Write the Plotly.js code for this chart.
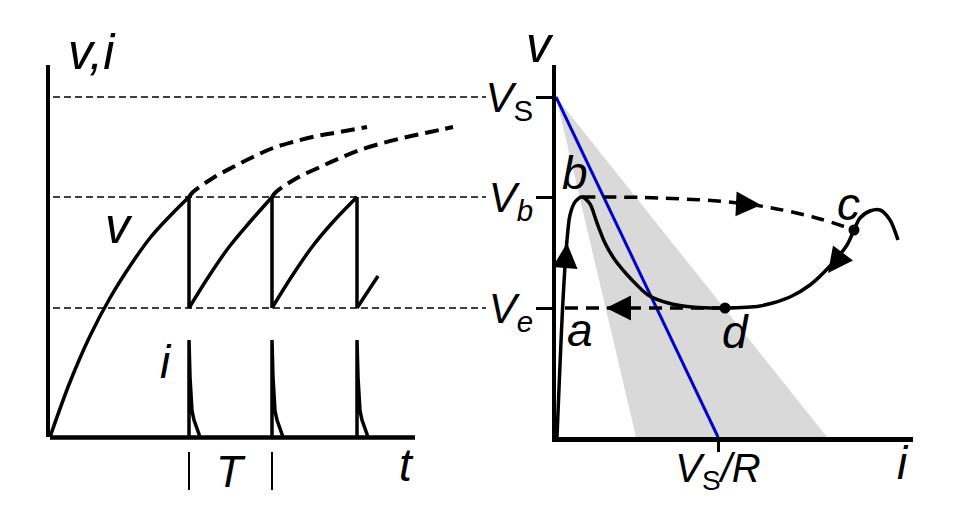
<!DOCTYPE html>
<html>
<head>
<meta charset="utf-8">
<script src="https://cdn.plot.ly/plotly-3.0.1.min.js"></script>
<style>html,body{margin:0;padding:0;background:#fff;}#chart{width:964px;height:512px;}</style>
</head>
<body>
<div id="chart"></div>
<script>
// ---------- Left panel: v(t) and i(t) (t and v in drawing units; V_S = 340) ----------
const levelV = [340, 240, 129];                // V_S, V_b, V_e
const chargeT = [0, 20, 40, 60, 80, 100, 120, 141];
const chargeV = [0, 55, 101, 139, 171, 199, 221, 242];
const tooth2T = [139, 159, 179, 199, 223];
const tooth2V = [129, 161, 190, 214, 241];
const tooth3T = [222, 242, 262, 282, 307];
const tooth3V = [129, 161, 190, 214, 240];
const tooth4T = [307, 328];
const tooth4V = [129, 161];
const dropT = [139, 139, null, 222, 222, null, 307, 307];
const dropV = [240, 129, null, 240, 129, null, 240, 129];
const dash1T = [139, 143, 163, 183, 203, 223, 243, 267, 290, 317];
const dash1V = [240, 245, 259, 270, 280, 289, 295, 301, 305, 310];
const dash2T = [222, 226, 247, 270, 290, 310, 333, 357, 380, 403];
const dash2V = [240, 245, 259, 270, 279, 287, 294, 300, 305, 310];
const spike1T = [139, 139, 140, 141, 142, 144, 147, 150];
const spike2T = [222, 222, 223, 224, 225, 227, 230, 233];
const spike3T = [307, 307, 308, 309, 310, 312, 315, 318];
const spikeI  = [0, 97, 60, 34, 26, 17, 7, 0];
const periodMarks = [139, 222];
const tAxisEnd = 365;

// ---------- Right panel: v(i) characteristic ----------
const curveI = [1, 7, 11, 14, 19, 26, 34, 41, 49, 59, 76, 92, 112, 136, 169, 204, 234, 254, 274, 291, 298, 304, 314, 324, 334, 342];
const curveV = [0, 137, 197, 222, 235, 240, 233, 214, 194, 177, 157, 142, 134, 130, 129, 131, 140, 152, 171, 192, 207, 219, 226, 227, 217, 197];
const jumpBCi = [26, 104, 191, 257, 298];
const jumpBCv = [240, 239, 233, 220, 207];
const jumpDAi = [169, 2];
const jumpDAv = [129, 129];
const loadI = [0, 162];                         // load line V_S -> V_S/R
const loadV = [340, 0];
const shadeI = [0, 80, 271, 0];
const shadeV = [340, 0, 0, 340];
const pointNames = ['a', 'b', 'c', 'd'];
const pointI = [24, 19, 292, 179];
const pointV = [107, 264, 233, 105];
const dotI = [298, 169];
const dotV = [207, 129];

const F = 'Liberation Sans, Arial, sans-serif';
const blk = 'black';
const LW = 3.5;

const traces = [
  // left panel
  {x: chargeT, y: chargeV, mode: 'lines', line: {color: blk, width: LW, shape: 'spline'}},
  {x: tooth2T, y: tooth2V, mode: 'lines', line: {color: blk, width: LW, shape: 'spline'}},
  {x: tooth3T, y: tooth3V, mode: 'lines', line: {color: blk, width: LW, shape: 'spline'}},
  {x: tooth4T, y: tooth4V, mode: 'lines', line: {color: blk, width: LW}},
  {x: dropT, y: dropV, mode: 'lines', line: {color: blk, width: LW}, connectgaps: false},
  {x: dash1T, y: dash1V, mode: 'lines', line: {color: blk, width: 4, dash: '14px,7px', shape: 'spline'}},
  {x: dash2T, y: dash2V, mode: 'lines', line: {color: blk, width: 4, dash: '14px,7px', shape: 'spline'}},
  {x: spike1T, y: spikeI, mode: 'lines', line: {color: blk, width: LW}},
  {x: spike2T, y: spikeI, mode: 'lines', line: {color: blk, width: LW}},
  {x: spike3T, y: spikeI, mode: 'lines', line: {color: blk, width: LW}},
  // right panel
  {x: shadeI, y: shadeV, xaxis: 'x2', yaxis: 'y2', mode: 'lines', fill: 'toself', fillcolor: '#d9d9d9', line: {width: 0}},
  {x: loadI, y: loadV, xaxis: 'x2', yaxis: 'y2', mode: 'lines', line: {color: '#0000cc', width: 3}},
  {x: jumpBCi, y: jumpBCv, xaxis: 'x2', yaxis: 'y2', mode: 'lines', line: {color: blk, width: LW, dash: '13px,8px', shape: 'spline'}},
  {x: jumpDAi, y: jumpDAv, xaxis: 'x2', yaxis: 'y2', mode: 'lines', line: {color: blk, width: LW, dash: '13px,8px'}},
  {x: curveI, y: curveV, xaxis: 'x2', yaxis: 'y2', mode: 'lines', line: {color: blk, width: LW, shape: 'spline', smoothing: 0.8}},
  {x: dotI, y: dotV, xaxis: 'x2', yaxis: 'y2', mode: 'markers', marker: {color: blk, size: 11}, cliponaxis: false}
];

const px = x => x / 964;
const py = y => 1 - y / 512;

const annotations = [];
function label(text, x, y, size) {
  annotations.push({text: text, xref: 'paper', yref: 'paper', x: px(x), y: py(y), xanchor: 'center', yanchor: 'middle',
    showarrow: false, font: {family: F, size: size, color: blk}});
}
label('<i>v,i</i>', 92, 52, 50);
label('<i>v</i>', 119, 226, 50);
label('<i>i</i>', 166, 362, 46);
label('<i>T</i>', 231, 471, 44);
label('<i>t</i>', 406, 465, 46);
label('<i>v</i>', 540, 45, 50);
label('<i>i</i>', 903, 463, 46);
pointNames.forEach((n, k) => {
  annotations.push({text: '<i>' + n + '</i>', xref: 'x2', yref: 'y2', x: pointI[k], y: pointV[k], xanchor: 'center', yanchor: 'middle',
    showarrow: false, font: {family: F, size: 46, color: blk}});
});
function arrow(x, y, ax, ay) {
  annotations.push({xref: 'x2', yref: 'y2', axref: 'x2', ayref: 'y2', x: x, y: y, ax: ax, ay: ay, text: '',
    showarrow: true, arrowhead: 2, arrowsize: 2, arrowwidth: 2.5, arrowcolor: blk, standoff: 0, startstandoff: 0});
}
arrow(11, 194, 9, 168);
arrow(272, 164, 284, 180);
arrow(205, 232, 183, 233);
arrow(50, 129, 72, 129);

const shapes = levelV.map(v => ({type: 'line', xref: 'paper', yref: 'y', x0: px(53), x1: px(486), y0: v, y1: v,
  line: {color: blk, width: 1.6, dash: '7px,4px'}, layer: 'below'}));
periodMarks.forEach(t => shapes.push({type: 'line', xref: 'x', yref: 'paper', x0: t, x1: t, y0: py(452), y1: py(490),
  line: {color: blk, width: 2}}));
// left time axis line (drawn as a shape so the dashed asymptote can run past its end)
shapes.push({type: 'line', xref: 'x', yref: 'paper', x0: -2.5, x1: tAxisEnd, y0: py(437.5), y1: py(437.5),
  line: {color: blk, width: 4.5}});

const axBase = {showline: true, linewidth: 4.5, linecolor: blk, showgrid: false, zeroline: false, fixedrange: true};
const layout = {
  width: 964, height: 512, margin: {l: 0, r: 0, t: 0, b: 0},
  paper_bgcolor: 'white', plot_bgcolor: 'rgba(0,0,0,0)', showlegend: false,
  font: {family: F, color: blk},
  xaxis: Object.assign({}, axBase, {domain: [px(50), px(480)], range: [0, 430], showline: false, showticklabels: false, ticks: ''}),
  yaxis: Object.assign({}, axBase, {domain: [py(437), py(65)], range: [0, 372], showticklabels: false, ticks: ''}),
  xaxis2: Object.assign({}, axBase, {domain: [px(556), px(913)], range: [0, 357], anchor: 'y2',
    tickmode: 'array', tickvals: [162], ticktext: ['<i>V</i><sub>S</sub><i>/R</i>'], ticklabelstandoff: -18,
    ticks: 'outside', ticklen: 10, tickwidth: 3, tickcolor: blk, tickfont: {family: F, size: 40, color: blk}}),
  yaxis2: Object.assign({}, axBase, {domain: [py(437), py(65)], range: [0, 372], anchor: 'x2',
    tickmode: 'array', tickvals: [340, 240, 129],
    ticktext: ['<i>V</i><sub>S</sub>', '<i>V<sub>b</sub></i>', '<i>V<sub>e</sub></i>'], ticklabelstandoff: -6,
    ticks: 'outside', ticklen: 16, tickwidth: 3, tickcolor: blk, tickfont: {family: F, size: 42, color: blk}}),
  shapes: shapes,
  annotations: annotations
};

Plotly.newPlot('chart', traces, layout, {staticPlot: true, displayModeBar: false});
</script>
</body>
</html>
